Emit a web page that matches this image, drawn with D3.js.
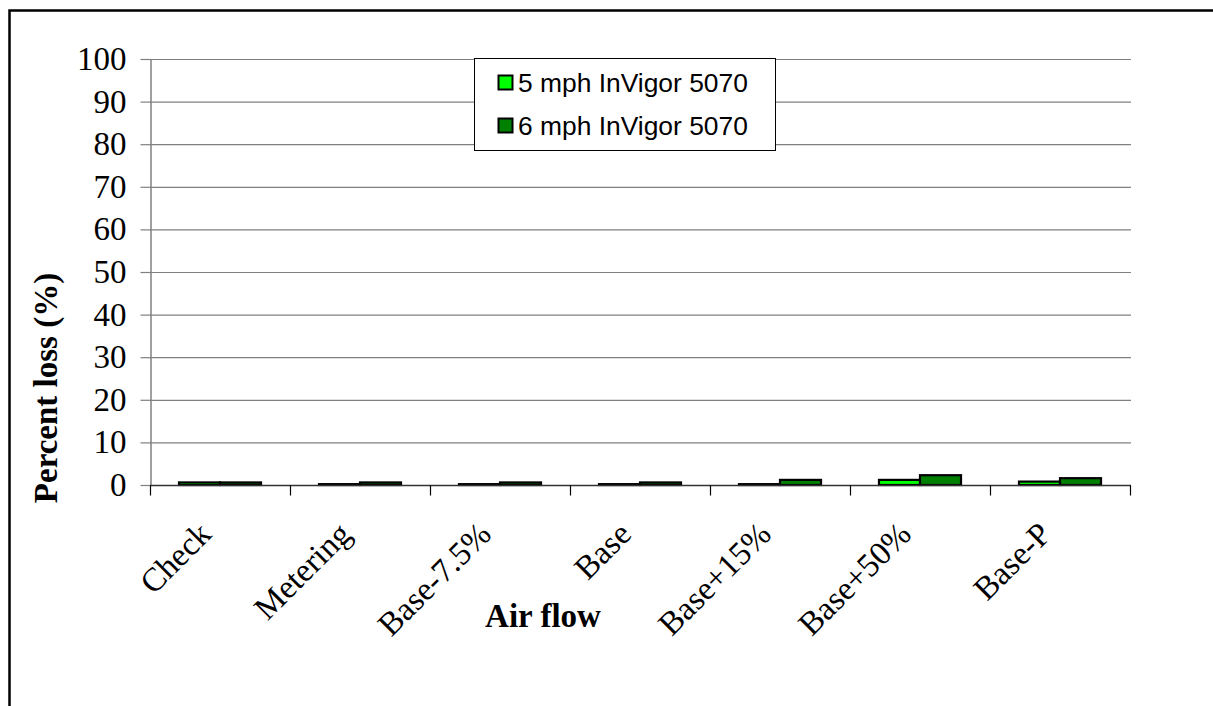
<!DOCTYPE html>
<html>
<head>
<meta charset="utf-8">
<script src="https://cdn.jsdelivr.net/npm/d3@7"></script>
<style>
  html, body { margin: 0; padding: 0; background: #fff; overflow: hidden; }
  svg { display: block; }
</style>
</head>
<body>
<svg id="chart" width="1213" height="706"></svg>
<script>
const categories = ["Check", "Metering", "Base-7.5%", "Base", "Base+15%", "Base+50%", "Base-P"];
const seriesNames = ["5 mph InVigor 5070", "6 mph InVigor 5070"];
const mph5 = [0.6, 0.2, 0.2, 0.2, 0.2, 1.2, 0.8];
const mph6 = [0.6, 0.6, 0.6, 0.6, 1.2, 2.3, 1.6];
const seriesColors = ["#00FF00", "#008000"];
const yTicks = [0, 10, 20, 30, 40, 50, 60, 70, 80, 90, 100];

const seriesValues = [mph5, mph6];
const svg = d3.select("#chart");
const serif = "'Liberation Serif', 'Times New Roman', serif";
const sans = "'Liberation Sans', Arial, sans-serif";

// outer border
svg.append("rect").attr("x", 9.5).attr("y", 10.5).attr("width", 1215).attr("height", 710)
  .attr("fill", "none").attr("stroke", "#000").attr("stroke-width", 2.5);

const plotL = 150, plotR = 1130, plotT = 59, plotB = 485;
const y = d3.scaleLinear().domain([0, 100]).range([plotB, plotT]);
const x0 = d3.scaleBand().domain(categories).range([plotL, plotR]).paddingInner(0.414).paddingOuter(0.207);
const x1 = d3.scaleBand().domain(seriesNames).range([0, x0.bandwidth()]);
const xEdges = d3.scaleLinear().domain([0, categories.length]).range([plotL, plotR]);

// gridlines
svg.append("g").selectAll("line").data(yTicks.filter(d => d > 0)).join("line")
  .attr("x1", plotL).attr("x2", plotR + 1)
  .attr("y1", d => y(d) + 0.5).attr("y2", d => y(d) + 0.5)
  .attr("stroke", "#808080").attr("stroke-width", 1.2);

// y axis
const yAxis = svg.append("g").attr("transform", `translate(${plotL + 0.5},0)`)
  .call(d3.axisLeft(y).tickValues(yTicks).tickSize(10).tickSizeOuter(0).tickPadding(14));
yAxis.select(".domain").attr("stroke", "#808080").attr("stroke-width", 1.5);
yAxis.selectAll(".tick line").attr("stroke", "#808080").attr("stroke-width", 1.2);
yAxis.selectAll(".tick text").attr("font-family", serif).attr("font-size", 33).attr("fill", "#000");

// bars
const groups = svg.append("g").selectAll("g").data(categories).join("g")
  .attr("transform", d => `translate(${x0(d)},0)`);
groups.selectAll("rect").data((d, i) => seriesNames.map((s, k) => ({ s, k, v: seriesValues[k][i] })))
  .join("rect")
  .attr("x", d => x1(d.s))
  .attr("width", x1.bandwidth())
  .attr("y", d => y(d.v))
  .attr("height", d => y(0) - y(d.v))
  .attr("fill", d => seriesColors[d.k])
  .attr("stroke", "#000").attr("stroke-width", 2.2);

// x axis
const xAxis = svg.append("g").attr("transform", `translate(0,${plotB + 0.5})`);
xAxis.append("line").attr("x1", plotL).attr("x2", plotR + 1).attr("stroke", "#333").attr("stroke-width", 1.5);
xAxis.selectAll("line.tk").data(d3.range(categories.length + 1)).join("line").attr("class", "tk")
  .attr("x1", d => xEdges(d) + 0.5).attr("x2", d => xEdges(d) + 0.5)
  .attr("y1", 0).attr("y2", 10).attr("stroke", "#000").attr("stroke-width", 1.2);
svg.append("g").selectAll("text").data(categories).join("text")
  .attr("transform", d => `translate(${x0(d) + x0.bandwidth() / 2 - 7},536) rotate(-45)`)
  .attr("text-anchor", "end")
  .attr("font-family", serif).attr("font-size", 33).attr("fill", "#000")
  .text(d => d);

// axis titles
svg.append("text").attr("transform", "translate(57,388) rotate(-90)")
  .attr("text-anchor", "middle").attr("font-family", serif).attr("font-size", 33)
  .attr("font-weight", "bold").text("Percent loss (%)");
svg.append("text").attr("x", 543).attr("y", 627)
  .attr("text-anchor", "middle").attr("font-family", serif).attr("font-size", 33)
  .attr("font-weight", "bold").text("Air flow");

// legend
const lg = svg.append("g");
lg.append("rect").attr("x", 474.5).attr("y", 58.5).attr("width", 301).attr("height", 92)
  .attr("fill", "#fff").attr("stroke", "#000").attr("stroke-width", 1);
const items = lg.selectAll("g").data(seriesNames).join("g")
  .attr("transform", (d, i) => `translate(0,${i * 43})`);
items.append("rect").attr("x", 498.5).attr("y", 75.5).attr("width", 14).attr("height", 14)
  .attr("fill", (d, i) => seriesColors[i]).attr("stroke", "#000").attr("stroke-width", 2);
items.append("text").attr("x", 518).attr("y", 91.5)
  .attr("font-family", sans).attr("font-size", 26.4).attr("fill", "#000")
  .text(d => d);
</script>
</body>
</html>
